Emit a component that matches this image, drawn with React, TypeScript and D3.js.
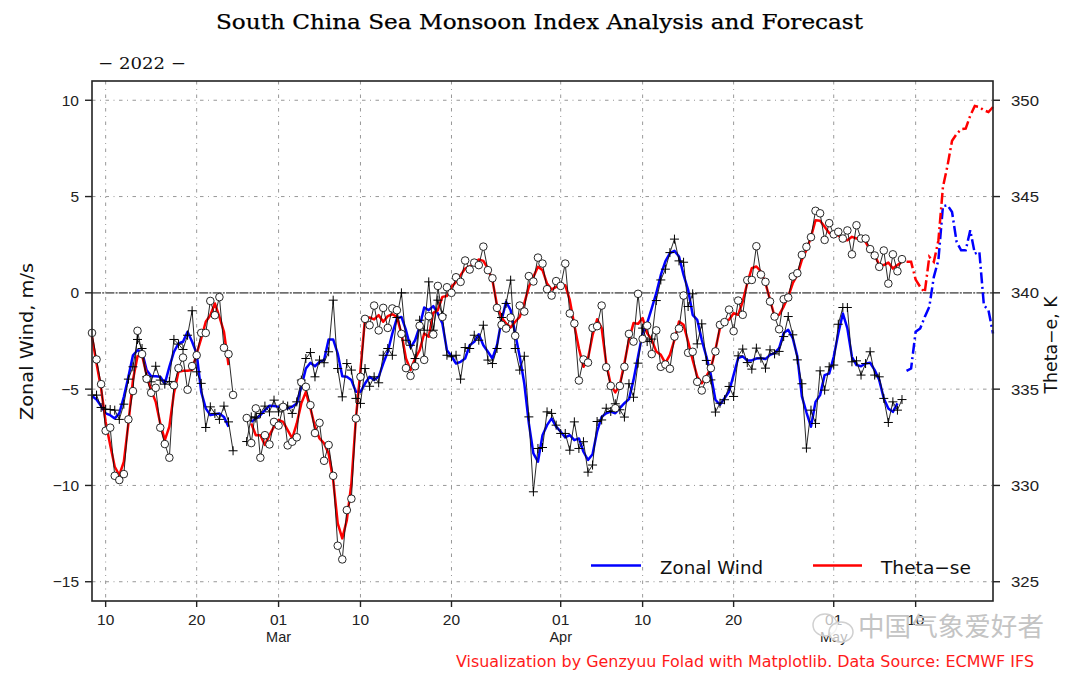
import React from "react";
import * as d3 from "d3";

const N = null;
// 12-hourly samples starting 2022-02-08 12:00 UTC; values in m/s (left axis)
const thetaRaw: (number | null)[] = [
  -2.08,-3.46,-4.74,-7.16,-7.0,-9.5,-9.72,-9.41,-6.57,-5.1,-1.97,-3.18,-4.46,-5.19,-4.93,-7.0,-7.85,-8.56,-4.8,-3.91,-3.36,-5.03,-3.8,-3.24,-2.08,-2.08,-0.42,-1.16,-0.22,-2.85,-3.18,-5.3,
  N,N,
  -6.5,-7.8,-6.0,-8.56,-7.39,-7.87,-6.7,-6.89,-5.92,-7.92,-7.73,-7.5,-4.64,-4.88,-5.83,-7.28,-6.75,-8.72,-7.9,-9.5,-13.13,-13.84,-11.28,-10.69,-6.52,-4.36,-1.35,-1.68,
  -0.66,-1.95,-0.78,-1.82,-0.81,-0.9,-2.13,-3.91,-4.31,-3.81,-1.71,-3.48,-1.21,-2.16,0.36,-1.25,0.29,0,0.81,0.57,1.68,1.21,1.57,1.44,2.4,1.18,0.76,-0.78,-1.66,-1.85,-1.28,-2.23,-0.66,-0.97,0.87,0.59,1.83,1.52,0.19,-0.14,0.61,0.36,1.52,-1.07,-1.59,-4.55,-3.46,-3.62,-1.82,-1.73,-0.66,
  -3.86,-4.83,-5.99,-4.83,-3.84,-2.13,-2.53,-0.05,-2.39,-1.7,-3.18,-1.95,-3.84,-3.72,-3.94,-2.27,-1.85,-0.14,-3.11,-3.06,-4.62,-5.07,-4.48,-3.91,-3.04,-1.66,-1.52,-0.87,-1.99,-0.4,-1.14,0.66,0.67,2.42,0.95,0.57,-0.45,-1.23,-1.89,-0.33,-0.24,0.85,1.02,1.97,2.39,
  2.89,4.26,4.13,2.75,3.62,3.04,3.17,2.82,3.24,2.0,3.51,2.82,2.82,2.27,1.94,1.35,2.2,0.48,2.0,1.12,1.75,
];
const windRaw: (number | null)[] = [
  -5.31,-5.31,-5.95,-6.04,-6.06,-6.09,-6.57,-5.78,-4.48,-3.84,-2.42,-2.89,-4.36,-4.62,-3.81,-4.53,-4.74,-4.6,-2.42,-2.66,-2.94,-2.2,-0.93,-4.1,-4.7,-6.99,-5.92,-6.26,-6.57,-5.88,-6.7,-8.2,
  N,N,
  -7.72,-6.44,-6.5,-6.26,-5.88,-6.18,-5.57,-6.18,-5.83,-5.88,-6.26,-5.66,-4.53,-3.41,-3.1,-4.36,-3.49,-3.63,-3.06,-0.38,-3.93,-5.4,-3.67,-4.01,-5.48,-5.74,-3.93,-4.85,
  -4.36,-4.67,-3.24,-2.89,-3.24,-1.28,0,-2.46,-2.72,-3.41,-1.42,-1.94,0.57,-1.94,-0.38,-1.16,-3.24,-3.32,-3.24,-4.48,-2.84,-2.89,-2.2,-2.46,-1.68,-3.49,-3.67,-2.89,-1.28,-0.55,0.66,-2.89,-4.01,-3.29,-6.44,-10.33,-8.08,-8.03,-6.18,-6.26,-6.87,-7.3,-7.3,-8.17,-6.7,-8.08,-7.73,-9.31,-8.94,-6.68,-6.6,
  -5.99,-6.16,-5.76,-6.07,-6.45,-4.72,-5.42,-3.65,-1.83,-2.53,-2.4,-0.4,0.67,1.23,2.09,2.79,1.66,1.59,-0.71,-0.05,-2.65,-1.61,-3.51,-4.52,-6.19,-5.73,-5.55,-4.86,-5.38,-3.27,-2.92,-3.62,-3.96,-2.87,-3.39,-3.91,-2.96,-3.17,-3.04,-2.27,-1.23,-2.18,-3.48,-4.72,-8.06,
  -6.09,-6.78,-4.05,-5.05,-3.84,-3.75,-1.63,-0.76,-0.76,-3.58,-3.53,-4.27,-3.67,-3.06,-4.27,-4.36,-5.48,-6.73,-5.66,-6.09,-5.54,
];
const thetaSmooth: (number | null)[] = [
  -2.28,-3.67,-4.97,-6.7,-7.9,-9.03,-9.46,-8.77,-6.78,-4.53,-3.29,-3.24,-4.27,-5.05,-5.66,-6.78,-7.65,-6.95,-5.22,-4.1,-4.05,-4.05,-4.01,-3.15,-2.37,-1.5,-1.16,-0.55,-1.25,-2.02,-3.75,
  N,N,N,N,
  -6.78,-7.39,-7.39,-7.9,-7.39,-6.95,-6.6,-6.7,-7.13,-7.56,-6.78,-5.74,-5.14,-6.0,-6.95,-7.56,-7.82,-8.34,-9.72,-11.97,-12.75,-11.8,-9.9,-6.5,-4.0,-1.33,-1.28,
  -1.38,-1.16,-1.5,-1.21,-1.11,-1.25,-2.11,-3.41,-4.01,-3.41,-2.98,-2.11,-2.28,-1.04,-0.9,-0.21,-0.16,0.31,0.57,0.92,1.26,1.38,1.52,1.73,1.66,1.26,0.66,-0.64,-1.28,-1.59,-1.8,-1.5,-1.25,-0.55,0.31,0.83,1.35,1.18,0.48,0.17,0.31,0.4,0.4,-0.38,-1.68,-2.89,-3.84,-3.41,-2.2,-1.37,-1.83,
  -3.65,-4.78,-5.17,-4.78,-3.65,-2.44,-1.57,-1.61,-1.31,-2.09,-2.44,-3.04,-3.22,-3.65,-3.22,-2.44,-1.49,-1.66,-2.53,-3.48,-4.34,-4.69,-4.34,-3.91,-2.96,-1.83,-1.44,-1.4,-1.06,-1.14,-0.45,0.5,1.28,1.37,1.11,0.5,-0.36,-1.23,-1.14,-0.71,-0.19,0.5,0.93,1.71,2.23,
  2.9,3.77,3.74,3.43,3.11,2.99,2.99,2.77,2.73,2.91,2.82,2.82,2.65,2.21,1.96,1.44,1.44,1.57,1.26,1.44,1.61,
];
const windSmooth: (number | null)[] = [
  -5.36,-5.54,-5.88,-6.26,-6.35,-6.52,-6.26,-5.4,-4.36,-3.24,-2.98,-3.06,-4.01,-4.33,-4.33,-4.36,-4.71,-3.84,-3.06,-2.63,-2.54,-2.02,-2.54,-3.15,-5.14,-6.0,-6.35,-6.3,-6.26,-6.44,-6.95,
  N,N,N,N,
  -6.7,-6.52,-6.35,-6.09,-5.86,-5.88,-5.92,-5.95,-6.0,-5.92,-5.74,-4.88,-3.93,-3.63,-3.81,-3.58,-3.49,-2.42,-2.42,-3.15,-4.33,-4.36,-4.53,-5.14,-5.14,-4.71,-4.36,
  -4.53,-4.36,-3.67,-3.06,-2.11,-1.33,-1.25,-1.94,-2.84,-2.46,-1.76,-0.76,-0.9,-0.69,-1.07,-1.59,-2.98,-3.29,-3.67,-3.58,-3.41,-2.72,-2.54,-2.15,-2.72,-3.06,-3.41,-2.72,-1.42,-0.47,-0.9,-2.11,-3.32,-4.71,-6.78,-8.34,-8.77,-7.39,-6.87,-6.52,-6.95,-7.21,-7.51,-7.39,-7.65,-7.56,-8.25,-8.68,-8.38,-7.2,-6.44,
  -6.25,-6.16,-6.25,-5.99,-5.73,-5.52,-4.52,-3.3,-2.09,-1.57,-0.8,-0.02,0.93,1.63,2.06,2.18,1.89,0.93,0.16,-1.14,-1.4,-2.44,-3.3,-4.26,-5.55,-5.81,-5.47,-5.12,-4.26,-3.39,-3.3,-3.51,-3.51,-3.41,-3.39,-3.44,-3.22,-3.13,-2.87,-2.09,-1.92,-2.35,-3.3,-5.38,-6.2,
  -6.95,-5.66,-5.31,-4.27,-4.19,-3.32,-2.11,-1.07,-1.85,-3.32,-3.75,-3.81,-3.67,-3.63,-4.01,-4.53,-5.48,-6.0,-6.18,-5.74,
];
// forecasts start 179 half-days after the first sample
const thetaForecast = [1.61,1.61,0.69,0.31,0.02,1.87,1.61,2.72,5.5,6.6,7.9,8.25,8.5,8.53,9.2,9.7,9.65,9.48,9.39,9.65];
const windForecast = [-4.05,-3.93,-2.02,-1.85,-1.25,-0.73,0.83,1.7,4.5,4.55,4.2,2.65,2.21,2.21,3.25,2.04,2.13,-0.64,-0.9,-2.11];
const forecastStart = 179;

const xTickDates = ["02-10","02-20","03-01","03-10","03-20","04-01","04-10","04-20","05-01","05-10"];
const monthLabels = [["03-01","Mar"],["04-01","Apr"],["05-01","May"]];
const leftTicks = [-15,-10,-5,0,5,10];
const rightTicks = [325,330,335,340,345,350];

const utc = (s: string) => new Date(`2022-${s}T00:00:00Z`);
const t0 = Date.UTC(2022, 1, 8, 12);
const dateOf = (i: number) => new Date(t0 + i * 43200000);

const L = 92, R = 993, T = 81, B = 601;
const x = d3.scaleUtc().domain([dateOf(0), dateOf(198)]).range([L, R]);
const y = d3.scaleLinear().domain([-16, 11]).range([B, T]);
const yR = d3.scaleLinear().domain([324, 351]).range([B, T]);

type P = { i: number; v: number | null };
const pts = (a: (number | null)[], off = 0): P[] => a.map((v, k) => ({ i: k + off, v }));
const line = d3.line<P>().defined(d => d.v !== null).x(d => x(dateOf(d.i))).y(d => y(d.v as number));

const tickFont = "'Liberation Sans', Arial, sans-serif";
const lineFont = "'DejaVu Sans', sans-serif";
const GRID = "3.5 4.5 1 4.5";
const FC_DASH = "11 3.5 2 3.5";

export default function App() {
  return (
    <svg width={1080} height={675} style={{ position: "absolute", left: 0, top: 0, display: "block", background: "#fff" }}>
      <text x={539.5} y={29} textAnchor="middle" fontFamily="'DejaVu Serif', serif" fontSize={21} textLength={647} lengthAdjust="spacingAndGlyphs" fill="#000" stroke="#000" strokeWidth={0.25}>South China Sea Monsoon Index Analysis and Forecast</text>
      <text x={98} y={69} fontFamily="'DejaVu Serif', serif" fontSize={17} textLength={88} lengthAdjust="spacingAndGlyphs" fill="#111">− 2022 −</text>

      {/* grid */}
      {xTickDates.map(d => (
        <line key={d} x1={x(utc(d))} x2={x(utc(d))} y1={T} y2={B} stroke="#8c8c8c" strokeWidth={0.9} strokeDasharray={GRID} />
      ))}
      {leftTicks.filter(t => t !== 0).map(t => (
        <line key={t} x1={L} x2={R} y1={y(t)} y2={y(t)} stroke="#8c8c8c" strokeWidth={0.9} strokeDasharray={GRID} />
      ))}
      <line x1={L} x2={R} y1={y(0)} y2={y(0)} stroke="#707070" strokeWidth={1.7} strokeDasharray="9 1.2 2 1.2" />

      {/* smoothed lines */}
      <path d={line(pts(windSmooth)) as string} fill="none" stroke="#0000ff" strokeWidth={2.5} strokeLinejoin="round" />
      <path d={line(pts(thetaSmooth)) as string} fill="none" stroke="#ff0000" strokeWidth={2.5} strokeLinejoin="round" />
      <path d={line(pts(windForecast, forecastStart)) as string} fill="none" stroke="#0000ff" strokeWidth={2.5} strokeDasharray={FC_DASH} />
      <path d={line(pts(thetaForecast, forecastStart)) as string} fill="none" stroke="#ff0000" strokeWidth={2.5} strokeDasharray={FC_DASH} />

      {/* raw lines */}
      <path d={line(pts(windRaw)) as string} fill="none" stroke="#111" strokeWidth={0.9} />
      <path d={line(pts(thetaRaw)) as string} fill="none" stroke="#111" strokeWidth={0.9} />

      {/* markers */}
      {pts(windRaw).filter(d => d.v !== null).map(d => {
        const cx = x(dateOf(d.i)), cy = y(d.v as number);
        return <path key={d.i} d={`M${cx - 4.5},${cy}H${cx + 4.5}M${cx},${cy - 4.5}V${cy + 4.5}`} stroke="#000" strokeWidth={1} fill="none" />;
      })}
      {pts(thetaRaw).filter(d => d.v !== null).map(d => (
        <circle key={d.i} cx={x(dateOf(d.i))} cy={y(d.v as number)} r={3.8} fill="#fff" stroke="#111" strokeWidth={0.9} />
      ))}

      {/* frame */}
      <rect x={L} y={T} width={R - L} height={B - T} fill="none" stroke="#222" strokeWidth={1.6} />

      {/* left axis */}
      {leftTicks.map(t => (
        <g key={t}>
          <line x1={L - 7} x2={L} y1={y(t)} y2={y(t)} stroke="#222" strokeWidth={1.4} />
          <text x={79} y={y(t) + 5.5} textAnchor="end" fontFamily={tickFont} fontSize={15.5} fill="#222">{t < 0 ? `−${-t}` : t}</text>
        </g>
      ))}
      {/* right axis */}
      {rightTicks.map(t => (
        <g key={t}>
          <line x1={R} x2={R + 7} y1={yR(t)} y2={yR(t)} stroke="#222" strokeWidth={1.4} />
          <text x={1011} y={yR(t) + 5.5} fontFamily={tickFont} fontSize={15.5} textLength={28} lengthAdjust="spacingAndGlyphs" fill="#222">{t}</text>
        </g>
      ))}
      {/* bottom axis */}
      {xTickDates.map(d => (
        <g key={d}>
          <line x1={x(utc(d))} x2={x(utc(d))} y1={B} y2={B + 6} stroke="#222" strokeWidth={1.4} />
          <text x={x(utc(d))} y={625} textAnchor="middle" fontFamily={tickFont} fontSize={15.5} fill="#222">{d.slice(3)}</text>
        </g>
      ))}
      {monthLabels.map(([d, m]) => (
        <text key={m} x={x(utc(d))} y={642} textAnchor="middle" fontFamily={tickFont} fontSize={14.5} fill="#222">{m}</text>
      ))}

      <text transform="translate(33,341.5) rotate(-90)" textAnchor="middle" fontFamily={lineFont} fontSize={17} textLength={157} lengthAdjust="spacingAndGlyphs" fill="#111">Zonal Wind, m/s</text>
      <text transform="translate(1057,345) rotate(-90)" textAnchor="middle" fontFamily={lineFont} fontSize={17} textLength={97} lengthAdjust="spacingAndGlyphs" fill="#111">Theta−e, K</text>

      {/* legend */}
      <line x1={591} x2={641} y1={565.5} y2={565.5} stroke="#0000ff" strokeWidth={2.5} />
      <text x={660} y={574} fontFamily={lineFont} fontSize={18} textLength={103} lengthAdjust="spacingAndGlyphs" fill="#111">Zonal Wind</text>
      <line x1={813} x2={862} y1={565.5} y2={565.5} stroke="#ff0000" strokeWidth={2.5} />
      <text x={881} y={574} fontFamily={lineFont} fontSize={18} textLength={90} lengthAdjust="spacingAndGlyphs" fill="#111">Theta−se</text>

      {/* credit + watermark */}
      <text x={456} y={667} fontFamily={lineFont} fontSize={15} textLength={578} lengthAdjust="spacingAndGlyphs" fill="#ff1a1a">Visualization by Genzyuu Folad with Matplotlib. Data Source: ECMWF IFS</text>
      <ellipse cx={825} cy={625} rx={12} ry={11} fill="#fff" fillOpacity={0.7} stroke="#d0d0d0" strokeWidth={1.5} />
      <ellipse cx={841} cy={632} rx={12} ry={10} fill="#fff" fillOpacity={0.7} stroke="#d0d0d0" strokeWidth={1.5} />
      <text x={858} y={636} fontFamily="'Noto Sans CJK SC', sans-serif" fontSize={26} textLength={186} lengthAdjust="spacingAndGlyphs" fill="#c4c4c4">中国气象爱好者</text>
    </svg>
  );
}
